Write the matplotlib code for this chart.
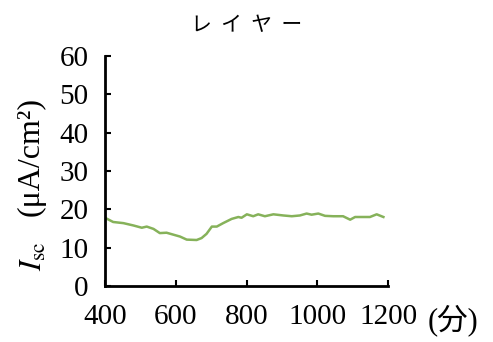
import matplotlib
matplotlib.use("Agg")
import matplotlib.pyplot as plt

title = "レ  イ  ヤ  ー"
x_ticks = [400, 600, 800, 1000, 1200]
y_ticks = [0, 10, 20, 30, 40, 50, 60]
time_min = [400, 423, 452, 480, 504, 518, 537, 555, 574, 593, 612, 631, 659, 673, 687,
            702, 716, 734, 758, 777, 786, 801, 819, 833, 852, 876, 904, 928, 951, 970,
            984, 1003, 1022, 1045, 1073, 1093, 1107, 1130, 1149, 1168, 1187]
isc = [17.8, 16.7, 16.4, 15.8, 15.2, 15.5, 14.9, 13.8, 13.9, 13.4, 12.9, 12.1, 12.0, 12.5, 13.6,
       15.5, 15.5, 16.4, 17.5, 18.0, 17.8, 18.7, 18.2, 18.7, 18.2, 18.7, 18.4, 18.2, 18.4, 18.9,
       18.6, 18.9, 18.3, 18.2, 18.2, 17.3, 18.0, 18.0, 18.0, 18.7, 18.0]

plt.rcParams['mathtext.fontset'] = 'stix'
serif = ['Liberation Serif', 'Noto Sans CJK JP']

fig = plt.figure(figsize=(4.93, 3.42), dpi=100)
ax = fig.add_axes([105/493, 56/342, (388-105)/493, (286-56)/342])
ax.plot(time_min, isc, color='#86b25a', lw=1.8)
ax.set_xlim(400, 1200)
ax.set_ylim(0, 60)
ax.set_xticks(x_ticks)
ax.set_yticks(y_ticks)
ax.set_xticklabels([str(v) for v in x_ticks], family=serif, fontsize=21)
ax.set_yticklabels([str(v) for v in y_ticks], family=serif, fontsize=21)
ax.tick_params(direction='in', length=4, width=1.5)
ax.tick_params(axis='x', pad=13)
ax.tick_params(axis='y', pad=12)
for s in ['top', 'right']:
    ax.spines[s].set_visible(False)
for s in ['left', 'bottom']:
    ax.spines[s].set_linewidth(2)

fig.text(33/493, 1 - 256/342, "$I_{\\rm sc}$", rotation=90,
         ha='center', va='center', fontsize=22)
fig.text(31/493, 1 - 157/342, "(μA/cm²)", rotation=90,
         ha='center', va='center', fontsize=23, family=serif)
fig.text(453/493, 1 - 320/342, "(分)", ha='center', va='center', fontsize=22,
         family=['Liberation Serif', 'Noto Sans CJK JP'])
fig.text(247/493, 1 - 25/342, title, ha='center', va='center', fontsize=15,
         family=['Noto Sans CJK JP'])

fig.savefig("out.png", dpi=100)
